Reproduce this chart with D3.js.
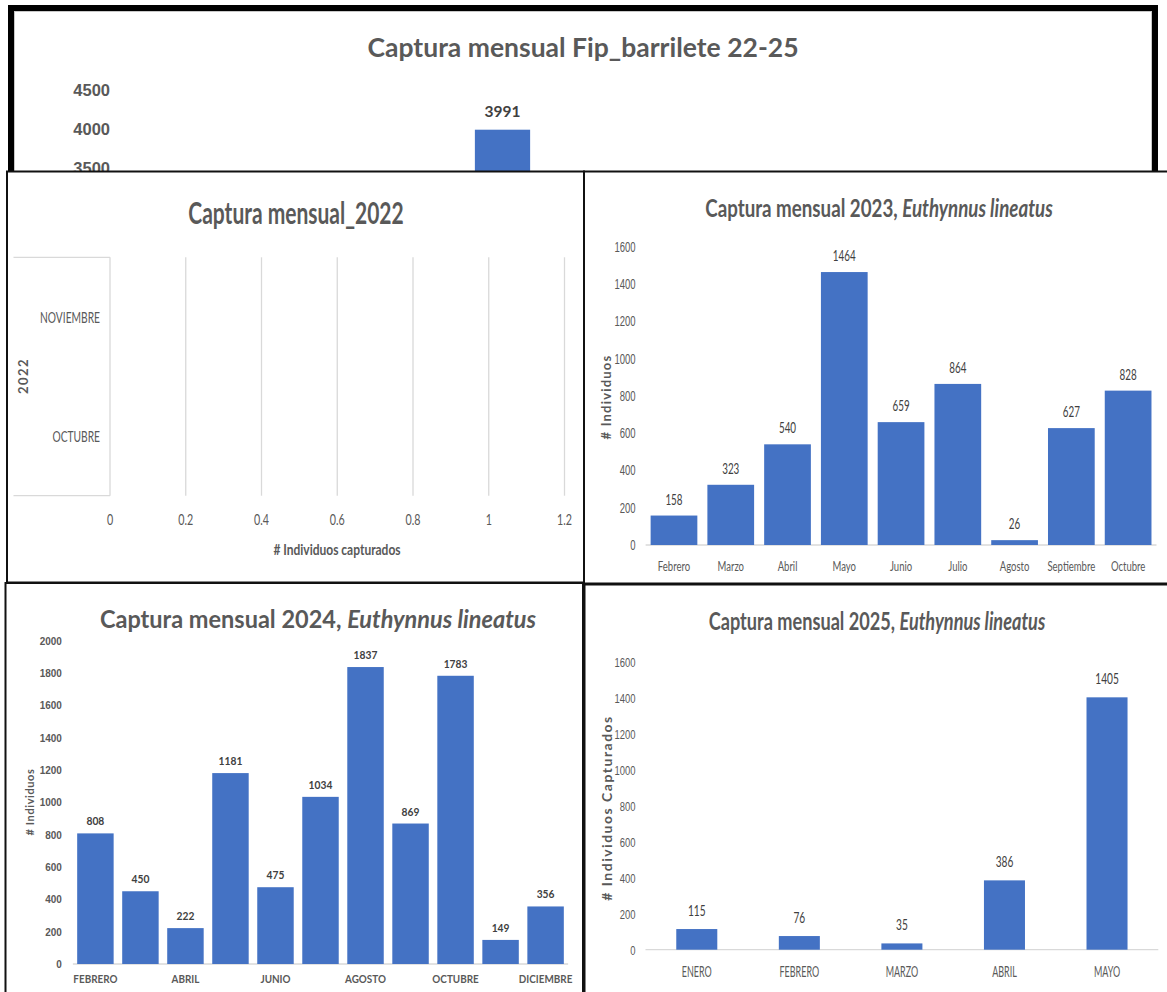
<!DOCTYPE html>
<html>
<head>
<meta charset="utf-8">
<script src="https://cdn.jsdelivr.net/npm/d3@7"></script>
<style>
  body { margin: 0; background: #fff; }
  svg { display: block; font-family: Lato, "Open Sans", sans-serif; }
</style>
</head>
<body>
<script>
// ---- Monthly catch data ----
// Combined panel (Fip_barrilete 22-25): only the May column rises above the overlapping panels
const monthsAll = ["ENERO", "FEBRERO", "MARZO", "ABRIL", "MAYO", "JUNIO", "JULIO", "AGOSTO", "SEPTIEMBRE", "OCTUBRE", "NOVIEMBRE", "DICIEMBRE"];
const valuesAll = [null, null, null, null, 3991, null, null, null, null, null, null, null];
const maxAll = 4500;
const ticksAll = [3500, 4000, 4500];

// 2022 (no captures recorded)
const year2022 = "2022";
const months2022 = ["OCTUBRE", "NOVIEMBRE"];
const values2022 = [0, 0];
const ticks2022 = [0, 0.2, 0.4, 0.6, 0.8, 1, 1.2];

// 2023, Euthynnus lineatus
const months2023 = ["Febrero", "Marzo", "Abril", "Mayo", "Junio", "Julio", "Agosto", "Septiembre", "Octubre"];
const values2023 = [158, 323, 540, 1464, 659, 864, 26, 627, 828];
const ticks2023 = [0, 200, 400, 600, 800, 1000, 1200, 1400, 1600];

// 2024, Euthynnus lineatus
const months2024 = ["FEBRERO", "MARZO", "ABRIL", "MAYO", "JUNIO", "JULIO", "AGOSTO", "SEPTIEMBRE", "OCTUBRE", "NOVIEMBRE", "DICIEMBRE"];
const values2024 = [808, 450, 222, 1181, 475, 1034, 1837, 869, 1783, 149, 356];
const ticks2024 = [0, 200, 400, 600, 800, 1000, 1200, 1400, 1600, 1800, 2000];
const shownLabels2024 = ["FEBRERO", "ABRIL", "JUNIO", "AGOSTO", "OCTUBRE", "DICIEMBRE"];

// 2025, Euthynnus lineatus
const months2025 = ["ENERO", "FEBRERO", "MARZO", "ABRIL", "MAYO"];
const values2025 = [115, 76, 35, 386, 1405];
const ticks2025 = [0, 200, 400, 600, 800, 1000, 1200, 1400, 1600];

const BAR = "#4472C4";
const GREY = "#595959";
const DARK = "#404040";
const RULE = "#d9d9d9";

const svg = d3.select("body").append("svg")
  .attr("width", 1167).attr("height", 992);

// Narrow text horizontally by factor k, keeping its anchor point in place
function narrow(sel, k) {
  sel.each(function () {
    const x = +this.getAttribute("x") || 0;
    const prev = this.getAttribute("transform") || "";
    this.setAttribute("x", x / k);
    this.setAttribute("transform", `${prev} scale(${k},1)`.trim());
  });
}

// Chart title; italicPart (optional) is set in italics after the plain part
function title(g, cx, cy, plain, italicPart, size, k) {
  const t = g.append("g").attr("transform", `translate(${cx},${cy}) scale(${k},1)`)
    .append("text")
    .attr("text-anchor", "middle").attr("dominant-baseline", "central")
    .attr("font-size", size).attr("font-weight", 700).attr("fill", GREY);
  t.append("tspan").text(plain);
  if (italicPart) t.append("tspan").attr("font-style", "italic").text(italicPart);
}

function frame(g, x, y, w, h, sw, col) {
  g.append("rect").attr("x", x).attr("y", y).attr("width", w).attr("height", h)
    .attr("fill", "#fff").attr("stroke", col || "#111").attr("stroke-width", sw);
}

function rotatedLabel(g, x, y, text, size, spacing) {
  g.append("text")
    .attr("transform", `translate(${x},${y}) rotate(-90)`)
    .attr("text-anchor", "middle").attr("dominant-baseline", "central")
    .attr("font-size", size).attr("font-weight", 700).attr("fill", GREY)
    .attr("letter-spacing", spacing)
    .text(text);
}

// Generic vertical column chart
function columns(g, o) {
  const x = d3.scaleBand().domain(o.cats).range([o.x0, o.x1])
    .paddingInner(o.pad).paddingOuter(o.pad / 2);
  const y = d3.scaleLinear().domain([0, o.max != null ? o.max : d3.max(o.ticks)]).range([o.yBase, o.yTop]);

  // value axis labels
  const ya = g.append("g").attr("transform", `translate(${o.x0},0)`)
    .call(d3.axisLeft(y).tickValues(o.ticks).tickSize(0).tickPadding(o.tickPad).tickFormat(d3.format("d")));
  ya.select(".domain").remove();
  ya.selectAll("text").attr("font-size", o.tickSize).attr("font-weight", o.tickWeight || 400)
    .attr("fill", GREY).attr("font-family", null);
  narrow(ya.selectAll("text"), o.k);

  // baseline
  if (o.baseline !== false) {
    g.append("line").attr("x1", o.x0).attr("x2", o.x1)
      .attr("y1", y(0)).attr("y2", y(0)).attr("stroke", RULE).attr("stroke-width", 1.3);
  }

  const data = o.cats.map((c, i) => ({ c, v: o.vals[i] })).filter(d => d.v != null);

  g.selectAll(null).data(data).join("rect")
    .attr("x", d => x(d.c)).attr("width", x.bandwidth())
    .attr("y", d => y(d.v)).attr("height", d => y(0) - y(d.v))
    .attr("fill", BAR);

  const vl = g.selectAll(null).data(data).join("text")
    .attr("x", d => x(d.c) + x.bandwidth() / 2)
    .attr("y", d => y(d.v) - o.valGap)
    .attr("text-anchor", "middle")
    .attr("font-size", o.valSize).attr("font-weight", o.valWeight || 400)
    .attr("fill", DARK)
    .text(d => d.v);
  narrow(vl, o.k);

  // category labels
  if (o.catY != null) {
    const shown = o.shown || o.cats;
    const cl = g.selectAll(null).data(shown).join("text")
      .attr("x", d => x(d) + x.bandwidth() / 2)
      .attr("y", o.catY)
      .attr("text-anchor", "middle").attr("dominant-baseline", "central")
      .attr("font-size", o.catSize).attr("font-weight", o.catWeight || 400)
      .attr("fill", GREY)
      .text(d => d);
    narrow(cl, o.catK || o.k);
  }
  return { x, y };
}

// ===== Panel: Captura mensual Fip_barrilete 22-25 =====
const pTop = svg.append("g");
frame(pTop, 11, 8, 1144, 700, 6, "#000");
pTop.append("rect").attr("x", 14.5).attr("y", 11.5).attr("width", 1137).attr("height", 690)
  .attr("fill", "none").attr("stroke", "#c8c8c8").attr("stroke-width", 1);
title(pTop, 583, 47, "Captura mensual Fip_barrilete 22-25", null, 26.5, 1.0);
columns(pTop, {
  cats: monthsAll, vals: valuesAll, ticks: ticksAll, max: maxAll,
  x0: 120, x1: 1140, yBase: 441, yTop: 90, pad: 0.35,
  tickSize: 16.5, tickWeight: 700, tickPad: 10, k: 1.0,
  valSize: 15.5, valWeight: 700, valGap: 13, baseline: false, catY: null
});

// ===== Panel: Captura mensual 2023 =====
const p23 = svg.append("g");
frame(p23, 584, 171.5, 620, 412, 2);
title(p23, 879, 207, "Captura mensual 2023, ", "Euthynnus lineatus", 25.5, 0.735);
rotatedLabel(p23, 606, 397, "# Individuos", 13, 1.2);
columns(p23, {
  cats: months2023, vals: values2023, ticks: ticks2023,
  x0: 645.6, x1: 1156.5, yBase: 545, yTop: 246.7, pad: 0.177,
  tickSize: 14, tickPad: 10, k: 0.68,
  valSize: 14.5, valGap: 11, catY: 566, catSize: 14
});

// ===== Panel: Captura mensual_2022 (horizontal bars) =====
const p22 = svg.append("g");
frame(p22, 7, 171.5, 577, 411, 2);
title(p22, 296, 212, "Captura mensual_2022", null, 30, 0.7);
{
  const x = d3.scaleLinear().domain([0, d3.max(ticks2022)]).range([110, 564.5]);
  const y = d3.scaleBand().domain(months2022).range([495.7, 257.3]);
  // vertical gridlines
  p22.selectAll(null).data(ticks2022).join("line")
    .attr("x1", d => x(d)).attr("x2", d => x(d))
    .attr("y1", 257.3).attr("y2", 495.7)
    .attr("stroke", RULE).attr("stroke-width", 1.3);
  // multi-level category bracket
  [257.3, 495.7].forEach(yy => p22.append("line")
    .attr("x1", 13.5).attr("x2", 110).attr("y1", yy).attr("y2", yy)
    .attr("stroke", RULE).attr("stroke-width", 1.3));
  // bars (all zero)
  p22.selectAll(null).data(months2022).join("rect")
    .attr("x", x(0)).attr("y", d => y(d) + y.bandwidth() * 0.2)
    .attr("width", (d, i) => x(values2022[i]) - x(0)).attr("height", y.bandwidth() * 0.6)
    .attr("fill", BAR);
  const xl = p22.selectAll(null).data(ticks2022).join("text")
    .attr("x", d => x(d)).attr("y", 519)
    .attr("text-anchor", "middle").attr("dominant-baseline", "central")
    .attr("font-size", 16).attr("fill", GREY)
    .text(d => d3.format("")(d));
  narrow(xl, 0.67);
  const yl = p22.selectAll(null).data(months2022).join("text")
    .attr("x", 100).attr("y", d => y(d) + y.bandwidth() / 2)
    .attr("text-anchor", "end").attr("dominant-baseline", "central")
    .attr("font-size", 16).attr("fill", GREY)
    .text(d => d);
  narrow(yl, 0.64);
  rotatedLabel(p22, 22.6, 376, year2022, 13, 1.5);
  const at = p22.append("text").attr("x", 337).attr("y", 549)
    .attr("text-anchor", "middle").attr("dominant-baseline", "central")
    .attr("font-size", 16).attr("font-weight", 700).attr("fill", GREY)
    .text("# Individuos capturados");
  narrow(at, 0.75);
}

// ===== Panel: Captura mensual 2025 =====
const p25 = svg.append("g");
frame(p25, 584.5, 584.5, 620, 420, 2);
title(p25, 877, 621, "Captura mensual 2025, ", "Euthynnus  lineatus", 24.7, 0.735);
rotatedLabel(p25, 606, 808, "# Individuos Capturados", 14, 1.5);
columns(p25, {
  cats: months2025, vals: values2025, ticks: ticks2025,
  x0: 645.5, x1: 1158.3, yBase: 949.7, yTop: 662.3, pad: 0.6,
  tickSize: 13.5, tickPad: 10, k: 0.7,
  valSize: 14.5, valGap: 13, catY: 972, catSize: 14.5, catK: 0.62
});

// ===== Panel: Captura mensual 2024 =====
const p24 = svg.append("g");
frame(p24, 5.5, 583, 577.5, 430, 2);
title(p24, 318, 618, "Captura mensual 2024, ", "Euthynnus lineatus", 24.5, 0.96);
rotatedLabel(p24, 29.4, 802, "# Individuos", 11, 0.6);
columns(p24, {
  cats: months2024, vals: values2024, ticks: ticks2024,
  x0: 72.9, x1: 568.1, yBase: 964, yTop: 640.7, pad: 0.19,
  tickSize: 10.5, tickWeight: 700, tickPad: 11, k: 0.95,
  valSize: 10.8, valWeight: 700, valGap: 8, catY: 979, catSize: 11, catWeight: 700, catK: 0.9,
  shown: shownLabels2024
});
</script>
</body>
</html>
